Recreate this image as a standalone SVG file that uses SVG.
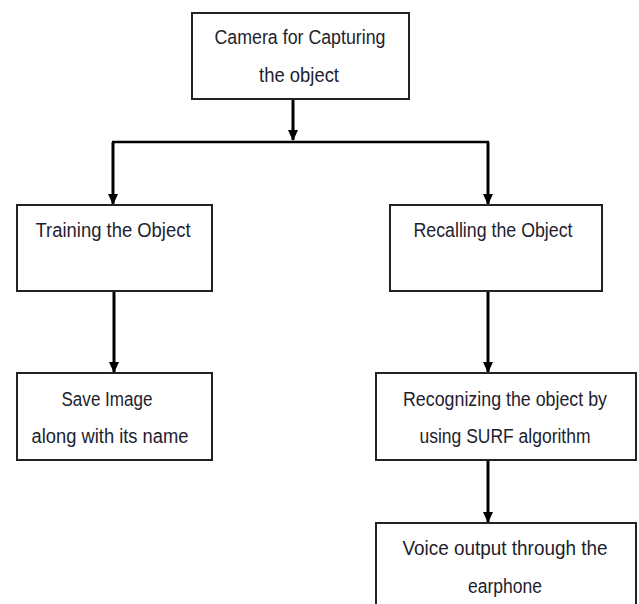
<svg xmlns="http://www.w3.org/2000/svg" width="639" height="604" viewBox="0 0 639 604">
<style>
.box{fill:#fff;stroke:#222;stroke-width:2}
.t{font-family:"Liberation Sans","Open Sans",sans-serif;font-size:20px;fill:#1e1e2e;text-anchor:middle}
.c{stroke:#000;stroke-width:3;fill:none}
</style>
<defs>
<marker id="ah" markerUnits="userSpaceOnUse" markerWidth="11" markerHeight="10" refX="10" refY="5" orient="auto" viewBox="0 0 11 10">
<path d="M0,0 L11,5 L0,10 Z" fill="#000"/>
</marker>
</defs>
<rect width="639" height="604" fill="#fff"/>
<g id="connectors">
<line class="c" x1="293" y1="99" x2="293" y2="140" marker-end="url(#ah)"/>
<line x1="112" y1="142" x2="489" y2="142" stroke="#000" stroke-width="2.5"/>
<line class="c" x1="113" y1="142" x2="113" y2="204" marker-end="url(#ah)"/>
<line class="c" x1="488" y1="142" x2="488" y2="204" marker-end="url(#ah)"/>
<line class="c" x1="114" y1="291" x2="114" y2="372" marker-end="url(#ah)"/>
<line class="c" x1="488" y1="291" x2="488" y2="372" marker-end="url(#ah)"/>
<line class="c" x1="488" y1="460" x2="488" y2="522" marker-end="url(#ah)"/>
</g>
<g id="camera">
<rect class="box" x="192" y="13" width="217" height="86"/>
<text class="t" x="300" y="44" textLength="171" lengthAdjust="spacingAndGlyphs">Camera for Capturing</text>
<text class="t" x="299" y="82" textLength="80" lengthAdjust="spacingAndGlyphs">the object</text>
</g>
<g id="training">
<rect class="box" x="17" y="205" width="195" height="86"/>
<text class="t" x="113" y="237" textLength="155" lengthAdjust="spacingAndGlyphs">Training the Object</text>
</g>
<g id="recalling">
<rect class="box" x="390" y="205" width="212" height="86"/>
<text class="t" x="493" y="237" textLength="159" lengthAdjust="spacingAndGlyphs">Recalling the Object</text>
</g>
<g id="save">
<rect class="box" x="17" y="373" width="195" height="87"/>
<text class="t" x="107" y="406" textLength="91" lengthAdjust="spacingAndGlyphs">Save Image</text>
<text class="t" x="110" y="443" textLength="157" lengthAdjust="spacingAndGlyphs">along with its name</text>
</g>
<g id="recognizing">
<rect class="box" x="376" y="373" width="260" height="87"/>
<text class="t" x="505" y="406" textLength="204" lengthAdjust="spacingAndGlyphs">Recognizing the object by</text>
<text class="t" x="505" y="443" textLength="171" lengthAdjust="spacingAndGlyphs">using SURF algorithm</text>
</g>
<g id="voice">
<rect class="box" x="376" y="523" width="260" height="90"/>
<text class="t" x="505" y="555" textLength="205" lengthAdjust="spacingAndGlyphs">Voice output through the</text>
<text class="t" x="505" y="593" textLength="74" lengthAdjust="spacingAndGlyphs">earphone</text>
</g>
</svg>
